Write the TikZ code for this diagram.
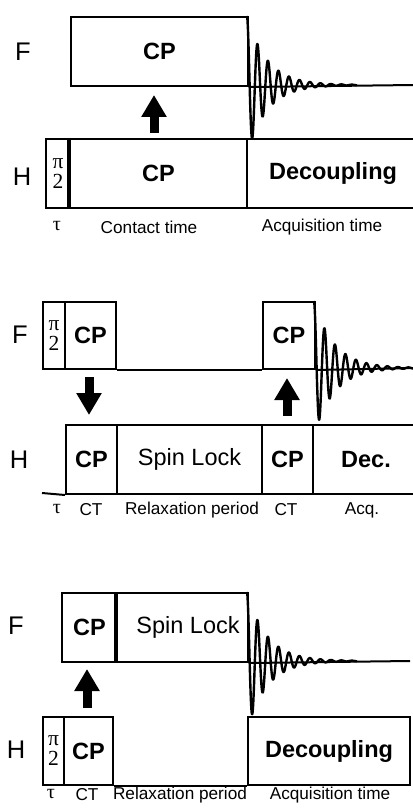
\documentclass[tikz,border=0pt]{standalone}
\usepackage{fontspec}
\setmainfont{Liberation Sans}
\newfontfamily\serifgr{Liberation Serif}
\usetikzlibrary{arrows.meta}
\begin{document}
\begin{tikzpicture}[x=1pt,y=-1pt,
  box/.style={draw, line width=2pt, inner sep=0pt, anchor=north west},
  bx/.style={font=\fontsize{23.5}{23.5}\selectfont\bfseries},
  sl/.style={font=\fontsize{23.5}{23.5}\selectfont},
  chan/.style={font=\fontsize{25.5}{25.5}\selectfont, inner sep=0pt},
  lab/.style={font=\fontsize{17.2}{17.2}\selectfont, inner sep=0pt},
  taulab/.style={font=\serifgr\fontsize{20}{20}\selectfont, inner sep=0pt},
  pihalf/.style={box, align=center, font=\serifgr\fontsize{21.5}{20}\selectfont},
  rule/.style={line width=2pt},
  sepline/.style={line width=3.5pt},
  fid/.style={line width=2.4pt, line join=round},
  bigarrow/.style={line width=9pt, -{Triangle[width=24pt 0 0, length=22pt 0 0]}}
]
\useasboundingbox (0,0) rectangle (412,810);

% ================= Panel 1 =================
\node[chan] (F1) at (23,52) {F};
\node[box, bx, minimum width=177pt, minimum height=69pt] (f1cp) at (70,16) {CP};
\coordinate (f1end) at (414,85);
\draw[rule] (f1cp.south east) -- (f1end);
\draw[fid] plot[domain=0:110,samples=700] ({247+\x},{85-69*exp(-\x/20)*cos(\x*34.2857)});

\node[chan] (H1) at (22,177) {H};
\node[pihalf, minimum width=24pt, minimum height=69pt] (h1pi) at (45,138) {π\\2};
\node[box, bx, minimum width=177pt, minimum height=69pt] (h1cp) at (69,138) {CP};
\node[box, bx, minimum width=172pt, minimum height=69pt] (h1dec) at (246,138) {Decoupling};
\draw[sepline] (h1cp.north west) -- (h1cp.south west);

\coordinate (a1s) at (154,133);
\coordinate (a1e) at (154,95);
\draw[bigarrow] (a1s) -- (a1e);

\node[taulab] (t1tau) at (57,226) {τ};
\node[lab] (t1ct) at (149,227) {Contact time};
\node[lab] (t1acq) at (322,227) {Acquisition time};

% ================= Panel 2 =================
\node[chan] (F2) at (20,335) {F};
\node[pihalf, minimum width=22pt, minimum height=67pt] (f2pi) at (42,301) {π\\2};
\node[box, bx, minimum width=51pt, minimum height=67pt] (f2cp) at (64,301) {CP};
\node[box, bx, minimum width=52pt, minimum height=67pt] (f2cpb) at (262,301) {CP};
\coordinate (f2end) at (414,368);
\draw[rule] (f2cp.south east) -- (f2cpb.south west);
\draw[rule] (f2cpb.south east) -- (f2end);
\draw[fid] plot[domain=0:100,samples=650] ({314+\x},{368-67*exp(-\x/20)*cos(\x*34.2857)});

\coordinate (a2s) at (89,377);
\coordinate (a2e) at (89,415);
\draw[bigarrow] (a2s) -- (a2e);
\coordinate (a3s) at (287,416);
\coordinate (a3e) at (287,378);
\draw[bigarrow] (a3s) -- (a3e);

\node[chan] (H2) at (19,460) {H};
\node[box, bx, minimum width=51pt, minimum height=69pt] (h2cp) at (65,424) {CP};
\coordinate (h2start) at (42,493);
\node[box, sl, minimum width=145pt, minimum height=69pt] (h2sl) at (116,424) {Spin Lock};
\node[box, bx, minimum width=51pt, minimum height=69pt] (h2cpb) at (261,424) {CP};
\node[box, bx, minimum width=106pt, minimum height=69pt] (h2dec) at (312,424) {Dec.};
\draw[rule] (h2start) -- (h2cp.south west);

\node[taulab] (t2tau) at (57,509) {τ};
\node[lab] (t2ct) at (91,510) {CT};
\node[lab] (t2rel) at (192,510) {Relaxation period};
\node[lab] (t2ctb) at (286,510) {CT};
\node[lab] (t2acq) at (362,510) {Acq.};

% ================= Panel 3 =================
\node[chan] (F3) at (16,626) {F};
\node[box, bx, minimum width=55pt, minimum height=69pt] (f3cp) at (61,592) {CP};
\node[box, sl, minimum width=131pt, minimum height=69pt] (f3sl) at (116,592) {\hspace*{11pt}Spin Lock};
\draw[sepline] (f3sl.north west) -- (f3sl.south west);
\coordinate (f3end) at (410,661);
\draw[rule] (f3sl.south east) -- (f3end);
\draw[fid] plot[domain=0:110,samples=700] ({247+\x},{661-69*exp(-\x/20)*cos(\x*34.2857)});

\coordinate (a4s) at (87,708);
\coordinate (a4e) at (87,669);
\draw[bigarrow] (a4s) -- (a4e);

\node[chan] (H3) at (16,750) {H};
\node[pihalf, minimum width=21pt, minimum height=68pt] (h3pi) at (42,716) {π\\2};
\node[box, bx, minimum width=49pt, minimum height=68pt] (h3cp) at (63,716) {CP};
\node[box, bx, minimum width=162pt, minimum height=68pt] (h3dec) at (247,716) {Decoupling};
\draw[rule] (h3cp.south east) -- (h3dec.south west);

\node[taulab] (t3tau) at (51,794) {τ};
\node[lab] (t3ct) at (87,795) {CT};
\node[lab] (t3rel) at (180,795) {Relaxation period};
\node[lab] (t3acq) at (330,795) {Acquisition time};
\end{tikzpicture}
\end{document}
